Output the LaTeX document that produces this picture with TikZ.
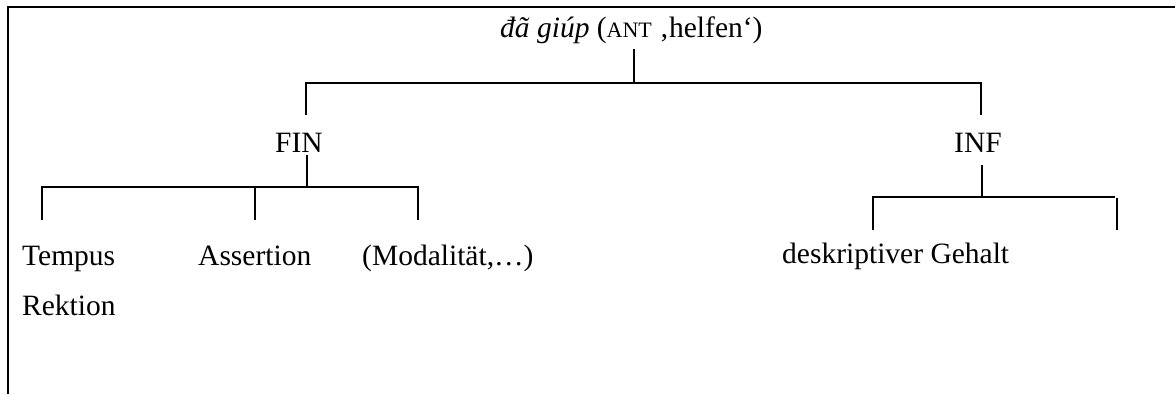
\documentclass[tikz,border=0pt]{standalone}
\usepackage{fontspec}
\setmainfont{Liberation Serif}
\begin{document}
\begin{tikzpicture}[x=1pt,y=-1pt,
  lbl/.style={inner sep=0pt, font=\fontsize{29.5}{35}\selectfont},
  ln/.style={line width=1.8pt}]
\useasboundingbox (0,0) rectangle (1175,394);
% frame (top and left edges)
\coordinate (fa) at (8,394);
\coordinate (fb) at (8,7);
\coordinate (fc) at (1175,7);
\draw[ln] (fa) -- (fb) -- (fc);

% labels
\node[lbl, anchor=base west] (root) at (500,37) {\textit{đã giúp} ({\fontsize{22}{26}\selectfont ANT} ‚helfen‘)};
\node[lbl, anchor=base] (fin) at (299,152) {FIN};
\node[lbl, anchor=base] (inf) at (978,152) {INF};
\node[lbl, anchor=base west] (tempus) at (22,265) {Tempus};
\node[lbl, anchor=base west] (rektion) at (22,315) {Rektion};
\node[lbl, anchor=base west] (assert) at (198,265) {Assertion};
\node[lbl, anchor=base west] (modal) at (362,265) {(Modalität,…)};
\node[lbl, anchor=base west] (desk) at (782,263) {deskriptiver Gehalt};

% branching points
\coordinate (r0) at (634,49);
\coordinate (r1) at (634,83);
\coordinate (rl) at (306,83);
\coordinate (rr) at (981,83);
\coordinate (rlb) at (306,115);
\coordinate (rrb) at (981,115);

\coordinate (f0) at (307,155);
\coordinate (f1) at (307,187);
\coordinate (fl) at (42,187);
\coordinate (fr) at (418,187);
\coordinate (flb) at (42,220);
\coordinate (fm) at (255,187);
\coordinate (fmb) at (255,220);
\coordinate (frb) at (418,220);

\coordinate (i0) at (982,165);
\coordinate (i1) at (982,197);
\coordinate (il) at (873,197);
\coordinate (ir) at (1115,197);
\coordinate (ilb) at (873,230);
\coordinate (xr0) at (1117,198);
\coordinate (xr1) at (1117,230);

% root tree
\draw[ln] (r0) -- (r1);
\draw[ln] (rlb) -- (rl) -- (rr) -- (rrb);
% FIN tree
\draw[ln] (f0) -- (f1);
\draw[ln] (flb) -- (fl) -- (fr) -- (frb);
\draw[ln] (fm) -- (fmb);
% INF tree
\draw[ln] (i0) -- (i1);
\draw[ln] (ilb) -- (il) -- (ir);
\draw[ln] (xr0) -- (xr1);
\end{tikzpicture}
\end{document}
